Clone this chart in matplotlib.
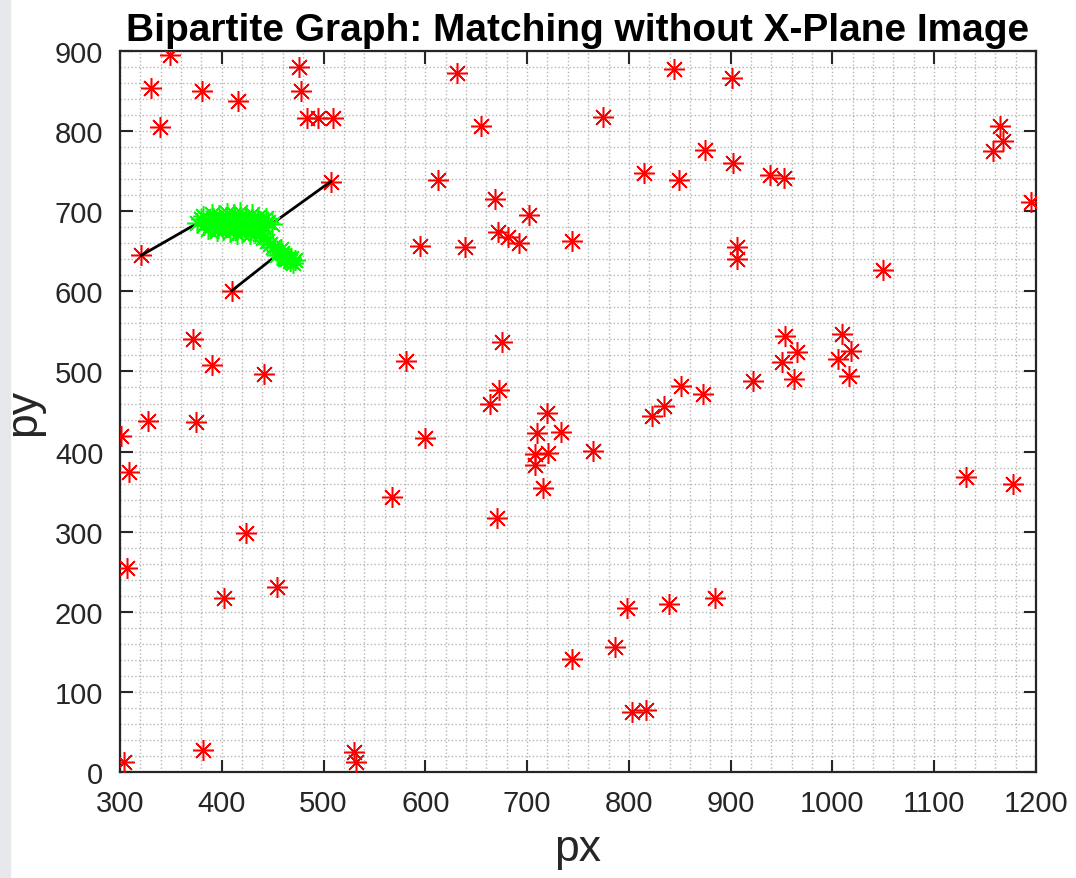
import matplotlib.pyplot as plt
from matplotlib.patches import Rectangle
from matplotlib.ticker import MultipleLocator

plt.rcParams['font.family'] = ['Liberation Sans', 'DejaVu Sans']

# keypoints detected in the scene (red)
scene_x = [349, 330, 339, 381, 416, 476, 478, 484, 495, 509, 507, 321, 410,
           631, 655, 775, 844, 901, 612, 815, 875, 902, 849, 939, 952,
           1165, 1168, 1158, 1195, 1050, 595, 639, 668, 702, 671, 681, 692,
           744, 906, 906, 372, 390, 442, 581, 675, 672, 664, 720, 710, 733,
           708, 721, 708, 765, 716, 670, 600, 567, 823, 835, 851, 873, 922,
           953, 965, 950, 962, 1009, 1018, 1005, 1016, 1131, 1177, 301, 328,
           309, 375, 424, 307, 402, 454, 798, 839, 885, 744, 786, 803, 817,
           382, 304, 530, 532]
scene_y = [895, 854, 805, 850, 838, 880, 850, 816, 816, 816, 737, 645, 601,
           873, 806, 818, 878, 866, 739, 748, 777, 760, 739, 745, 742,
           806, 788, 775, 711, 627, 657, 655, 715, 695, 674, 668, 660,
           663, 655, 640, 541, 508, 497, 513, 537, 477, 459, 448, 423, 424,
           397, 398, 383, 401, 355, 317, 417, 343, 444, 457, 482, 472, 488,
           544, 524, 512, 491, 547, 526, 516, 494, 368, 360, 419, 438,
           375, 437, 298, 255, 217, 231, 205, 210, 217, 141, 156, 75, 77,
           28, 12, 25, 13]

# keypoints of the template (green)
tmpl_x = [376, 380, 383, 386, 388, 391, 394, 396, 399, 402, 404, 406, 409,
          411, 413, 415, 417, 419, 421, 423, 425, 427, 429, 431, 433, 435,
          437, 439, 442, 445, 449, 433, 438, 441, 444, 447, 450, 454, 456,
          459, 461, 464, 467, 470, 472, 458, 462, 468,
          382, 390, 397, 405, 412, 418, 424, 430, 436, 443, 395, 408, 420,
          428, 440, 386, 401, 415]
tmpl_y = [685, 690, 683, 688, 681, 692, 686, 679, 689, 684, 693, 680, 687,
          677, 690, 683, 688, 679, 685, 691, 681, 687, 677, 684, 680, 688,
          676, 683, 680, 686, 684, 673, 671, 667, 663, 659, 655, 645, 651,
          648, 643, 641, 638, 636, 639, 653, 640, 642,
          694, 697, 695, 698, 696, 699, 694, 696, 693, 691, 675, 674, 673,
          672, 675, 678, 676, 672]

# matched pairs: scene point -> template point
match_sx = [321, 507, 410]
match_sy = [645, 737, 601]
match_tx = [376, 449, 454]
match_ty = [685, 684, 645]

fig = plt.figure(figsize=(10.76, 8.79), dpi=100)
fig.patches.append(Rectangle((0, 0), 0.009, 1, transform=fig.transFigure,
                             color='#e6e8eb', zorder=-1))
ax = fig.add_axes([0.1115, 0.1206, 0.8513, 0.8202])

ax.plot(scene_x, scene_y, linestyle='none', marker=(8, 2, 0), markersize=15,
        markeredgewidth=1.1, color='red', zorder=3)
for sx, sy, tx, ty in zip(match_sx, match_sy, match_tx, match_ty):
    ax.plot([sx, tx], [sy, ty], color='black', linewidth=2, zorder=4)
ax.plot(tmpl_x, tmpl_y, linestyle='none', marker=(8, 2, 0), markersize=15,
        markeredgewidth=1.1, color='#00ff00', zorder=5)

ax.set_xlim(300, 1200)
ax.set_ylim(0, 900)
ax.xaxis.set_major_locator(MultipleLocator(100))
ax.yaxis.set_major_locator(MultipleLocator(100))
ax.xaxis.set_minor_locator(MultipleLocator(20))
ax.yaxis.set_minor_locator(MultipleLocator(20))
ax.grid(True, which='both', linestyle=':', color='#b5b5b5', linewidth=1)
ax.set_axisbelow(True)
ax.tick_params(which='major', direction='in', length=9, width=1.5,
               top=True, right=True, labelsize=21, colors='#262626', pad=12)
ax.tick_params(which='minor', length=0)
for s in ax.spines.values():
    s.set_linewidth(1.6)
    s.set_color('#262626')

ax.set_xlabel('px', fontsize=32, color='#262626', labelpad=8)
ax.set_ylabel('py', fontsize=32, color='#262626', labelpad=8)
ax.set_title('Bipartite Graph: Matching without X-Plane Image',
             fontsize=28, fontweight='bold', pad=8)

fig.savefig('out.png', dpi=100)
